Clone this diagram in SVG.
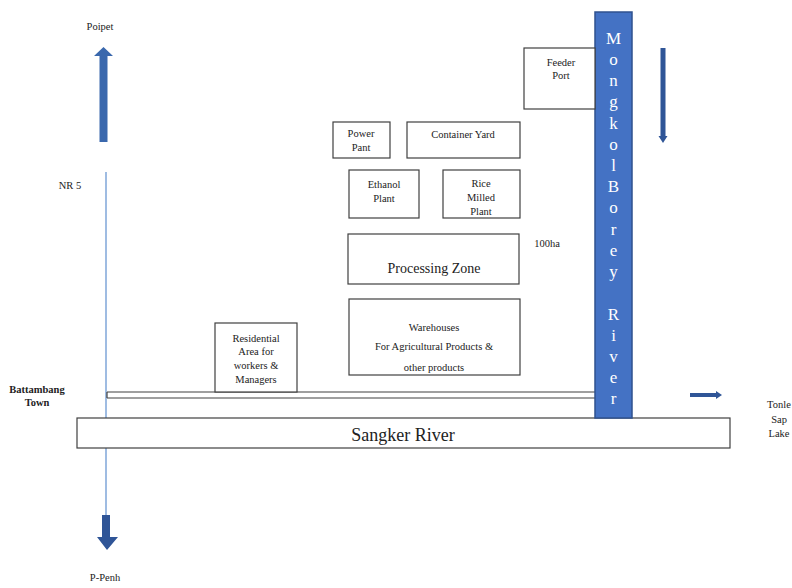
<svg xmlns="http://www.w3.org/2000/svg" width="792" height="588" viewBox="0 0 792 588">
<style>
text{font-family:"Liberation Serif","Times New Roman","DejaVu Serif",serif}
.box{fill:#fff;stroke:#404040;stroke-width:1.2}
.t{font-size:10.5px;fill:#222;text-anchor:middle}
.rl{font-size:17px;fill:#fff;text-anchor:middle}
.arr{fill:#2f5597;stroke:none}
.ln{stroke:#404040;stroke-width:1.2;fill:none}
</style>
<rect width="792" height="588" fill="#fff"/>
<g id="connectors">
  <line x1="106" y1="172" x2="106" y2="520" stroke="#7fa6d9" stroke-width="1.5"/>
  <g id="road">
    <line class="ln" x1="107" y1="392" x2="595" y2="392"/>
    <line class="ln" x1="107" y1="398" x2="595" y2="398"/>
    <line class="ln" x1="107" y1="392" x2="107" y2="398"/>
  </g>
  <polygon class="arr" points="99.5,142 107.5,142 107.5,56 113,56 103.5,47 94,56 99.5,56" style="fill:#3a68ad"/>
  <polygon class="arr" points="102,515 110,515 110,537 118,537 107,550 97,537 102,537"/>
  <polygon class="arr" points="660.5,48 665.5,48 665.5,136 667.5,136 663,143 658.5,136 660.5,136"/>
  <polygon class="arr" points="107,439 291,439 291,437 297,441.5 291,446 291,444 107,444"/>
  <polygon class="arr" points="517,439 639,439 639,437 645,441.5 639,446 639,444 517,444"/>
  <polygon class="arr" points="690,393 716,393 716,391 722,395 716,399 716,397 690,397"/>
</g>
<g id="sangker-river">
  <rect class="box" x="77" y="418" width="653" height="30"/>
  <text x="403" y="441" style="font-size:18px;fill:#222;text-anchor:middle">Sangker River</text>
</g>
<g id="mongkol-borey-river">
  <rect x="595" y="12" width="37" height="406" fill="#4472c4" stroke="#2f528f" stroke-width="1.5"/>
  <text class="rl" x="613.5" y="44">M</text>
  <text class="rl" x="613.5" y="65">o</text>
  <text class="rl" x="613.5" y="86">n</text>
  <text class="rl" x="613.5" y="107">g</text>
  <text class="rl" x="613.5" y="129">k</text>
  <text class="rl" x="613.5" y="150">o</text>
  <text class="rl" x="613.5" y="171">l</text>
  <text class="rl" x="613.5" y="192">B</text>
  <text class="rl" x="613.5" y="213">o</text>
  <text class="rl" x="613.5" y="235">r</text>
  <text class="rl" x="613.5" y="256">e</text>
  <text class="rl" x="613.5" y="277">y</text>
  <text class="rl" x="613.5" y="320">R</text>
  <text class="rl" x="613.5" y="341">i</text>
  <text class="rl" x="613.5" y="362">v</text>
  <text class="rl" x="613.5" y="383">e</text>
  <text class="rl" x="613.5" y="404">r</text>
</g>
<g id="feeder-port">
  <rect class="box" x="524" y="48" width="71" height="61"/>
  <text class="t" x="561" y="66">Feeder</text>
  <text class="t" x="561" y="79">Port</text>
</g>
<g id="power-plant">
  <rect class="box" x="333" y="122" width="57" height="36"/>
  <text class="t" x="361" y="137">Power</text>
  <text class="t" x="361" y="151">Pant</text>
</g>
<g id="container-yard">
  <rect class="box" x="407" y="122" width="113" height="36"/>
  <text class="t" x="463" y="138">Container Yard</text>
</g>
<g id="ethanol-plant">
  <rect class="box" x="349" y="170" width="70" height="48"/>
  <text class="t" x="384" y="188">Ethanol</text>
  <text class="t" x="384" y="202">Plant</text>
</g>
<g id="rice-milled-plant">
  <rect class="box" x="443" y="170" width="77" height="48"/>
  <text class="t" x="481" y="187">Rice</text>
  <text class="t" x="481" y="201">Milled</text>
  <text class="t" x="481" y="215">Plant</text>
</g>
<g id="processing-zone">
  <rect class="box" x="348" y="234" width="171" height="50"/>
  <text x="434" y="273" style="font-size:14px;fill:#222;text-anchor:middle">Processing Zone</text>
</g>
<g id="warehouses">
  <rect class="box" x="349" y="299" width="171" height="76"/>
  <text class="t" x="434" y="331">Warehouses</text>
  <text class="t" x="434" y="350">For Agricultural Products &amp;</text>
  <text class="t" x="434" y="371">other products</text>
</g>
<g id="residential">
  <rect class="box" x="215" y="323" width="82" height="69"/>
  <text class="t" x="256" y="342">Residential</text>
  <text class="t" x="256" y="355">Area for</text>
  <text class="t" x="256" y="369">workers &amp;</text>
  <text class="t" x="256" y="383">Managers</text>
</g>
<g id="labels">
  <text class="t" x="100" y="30">Poipet</text>
  <text class="t" x="70" y="189">NR 5</text>
  <text class="t" x="105" y="581">P-Penh</text>
  <text class="t" x="547" y="247">100ha</text>
  <text class="t" x="37" y="393" style="font-weight:bold">Battambang</text>
  <text class="t" x="37" y="406" style="font-weight:bold">Town</text>
  <text class="t" x="779" y="408">Tonle</text>
  <text class="t" x="779" y="423">Sap</text>
  <text class="t" x="779" y="437">Lake</text>
</g>
</svg>
